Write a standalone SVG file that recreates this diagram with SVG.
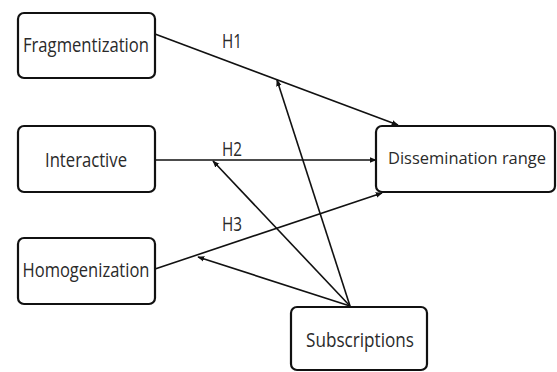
<svg xmlns="http://www.w3.org/2000/svg" width="557" height="372" viewBox="0 0 557 372">
<style>
.box{fill:#fff;stroke:#111;stroke-width:2.2}
.lbl{font-family:"Open Sans","Liberation Sans",sans-serif;font-size:20px;fill:#2a2a2a;text-anchor:middle;dominant-baseline:central}
.edge{stroke:#111;stroke-width:1.6;fill:none;marker-end:url(#ah)}
</style>
<defs>
<marker id="ah" viewBox="0 0 10 10" refX="9" refY="5" markerWidth="7" markerHeight="7" markerUnits="userSpaceOnUse" orient="auto">
<path d="M0,1 L10,5 L0,9 z" fill="#111"/>
</marker>
</defs>
<g id="edges">
<line class="edge" x1="155" y1="34" x2="398" y2="125"/>
<line class="edge" x1="155" y1="160" x2="376" y2="160"/>
<line class="edge" x1="155" y1="269" x2="382" y2="193"/>
<line class="edge" x1="350" y1="306" x2="277" y2="80"/>
<line class="edge" x1="350" y1="306" x2="213" y2="161"/>
<line class="edge" x1="350" y1="306" x2="198" y2="257"/>
<text class="lbl" x="232" y="40" textLength="20" lengthAdjust="spacingAndGlyphs">H1</text>
<text class="lbl" x="232" y="148" textLength="20" lengthAdjust="spacingAndGlyphs">H2</text>
<text class="lbl" x="232" y="223" textLength="20" lengthAdjust="spacingAndGlyphs">H3</text>
</g>
<g id="fragmentization"><rect class="box" x="18" y="13" width="137" height="65" rx="6"/><text class="lbl" x="86" y="44" textLength="126" lengthAdjust="spacingAndGlyphs">Fragmentization</text></g>
<g id="interactive"><rect class="box" x="18" y="126" width="137" height="66" rx="6"/><text class="lbl" x="86" y="159" textLength="82" lengthAdjust="spacingAndGlyphs">Interactive</text></g>
<g id="homogenization"><rect class="box" x="18" y="238" width="137" height="66" rx="6"/><text class="lbl" x="86" y="269" textLength="127" lengthAdjust="spacingAndGlyphs">Homogenization</text></g>
<g id="dissemination"><rect class="box" x="376" y="126" width="179" height="66" rx="6"/><text class="lbl" x="467" y="157" style="font-size:17px" textLength="158" lengthAdjust="spacingAndGlyphs">Dissemination range</text></g>
<g id="subscriptions"><rect class="box" x="291" y="307" width="136" height="63" rx="6"/><text class="lbl" x="360" y="339" textLength="108" lengthAdjust="spacingAndGlyphs">Subscriptions</text></g>
</svg>
